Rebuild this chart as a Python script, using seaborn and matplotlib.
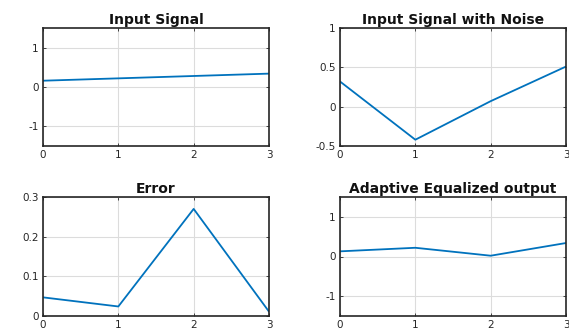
import matplotlib
matplotlib.use("Agg")
import matplotlib.pyplot as plt
import seaborn as sns
import pandas as pd

sns.set_theme(style="whitegrid")
plt.rcParams['font.family'] = ['DejaVu Sans']

n = [0, 1, 2, 3]
input_signal = [0.16, 0.22, 0.28, 0.34]
noisy_signal = [0.32, -0.42, 0.07, 0.51]
error = [0.047, 0.024, 0.27, 0.011]
equalized = [0.13, 0.22, 0.02, 0.34]

titles = ["Input Signal", "Input Signal with Noise", "Error", "Adaptive Equalized output"]
series = [input_signal, noisy_signal, error, equalized]
ylims = [(-1.5, 1.5), (-0.5, 1.0), (0, 0.3), (-1.5, 1.5)]
yticks = [[-1, 0, 1], [-0.5, 0, 0.5, 1], [0, 0.1, 0.2, 0.3], [-1, 0, 1]]
yticklabels = [["-1", "0", "1"], ["-0.5", "0", "0.5", "1"], ["0", "0.1", "0.2", "0.3"], ["-1", "0", "1"]]

W, H = 569, 332
fig = plt.figure(figsize=(W / 100, H / 100), dpi=100)
boxes = [(43, 28, 269, 146), (340, 28, 566, 146), (43, 197, 269, 316), (340, 197, 566, 316)]

for i in range(4):
    l, t, r, b = boxes[i]
    ax = fig.add_axes([l / W, 1 - b / H, (r - l) / W, (b - t) / H])
    df = pd.DataFrame({"n": n, "v": series[i]})
    sns.lineplot(data=df, x="n", y="v", ax=ax, color="#0072BD", linewidth=1.3)
    ax.set_xlim(0, 3)
    ax.set_ylim(*ylims[i])
    ax.set_xticks([0, 1, 2, 3])
    ax.set_xticklabels(["0", "1", "2", "3"])
    ax.set_yticks(yticks[i])
    ax.set_yticklabels(yticklabels[i])
    ax.set_xlabel("")
    ax.set_ylabel("")
    ax.set_facecolor("white")
    ax.grid(True, color="#dcdcdc", linewidth=0.8)
    for s in ax.spines.values():
        s.set_visible(True)
        s.set_color("#262626")
        s.set_linewidth(1.2)
    ax.tick_params(axis="both", direction="in", length=2, width=0.6, labelsize=7.5,
                   colors="#262626", pad=3, bottom=True, left=True, top=True, right=True,
                   labeltop=False, labelright=False)
    ax.set_title(titles[i], fontsize=10, fontweight="bold", pad=3, color="#111111")

fig.savefig("out.png", dpi=100)
